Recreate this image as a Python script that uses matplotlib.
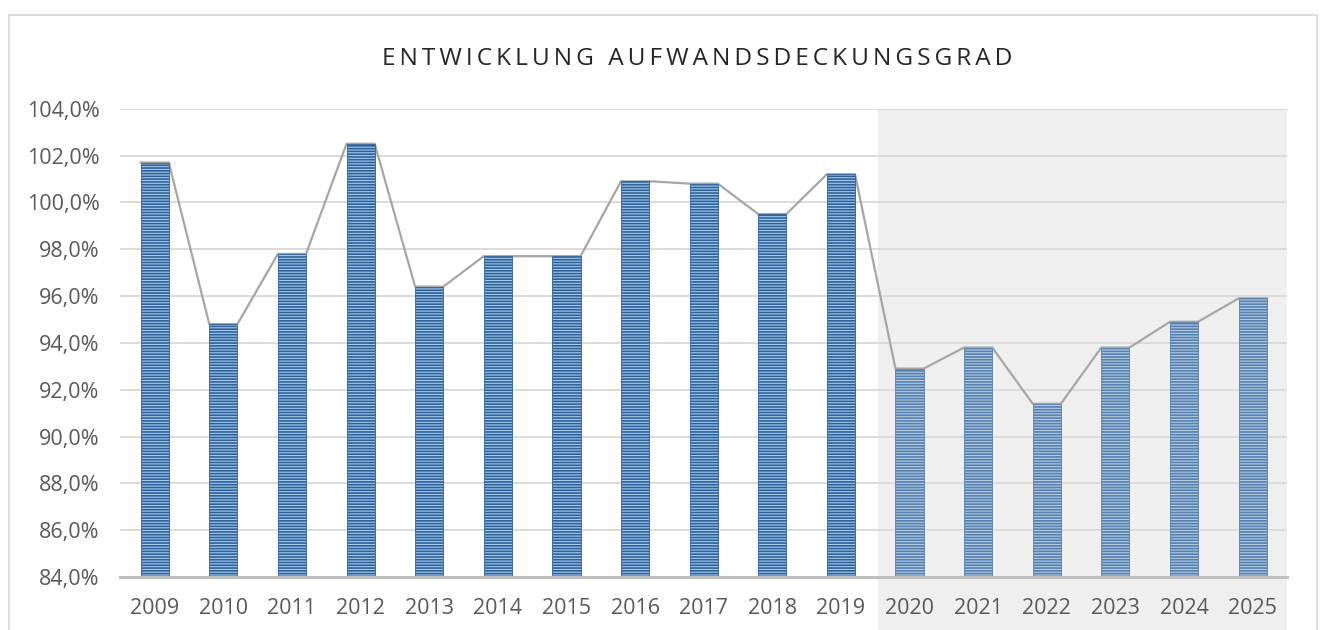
import numpy as np
import matplotlib
matplotlib.use('Agg')
import matplotlib.pyplot as plt
from matplotlib.patches import Rectangle
from matplotlib.ticker import FuncFormatter, MultipleLocator
import matplotlib.transforms as mtransforms

# Daten
jahre = ['2009', '2010', '2011', '2012', '2013', '2014', '2015', '2016', '2017',
         '2018', '2019', '2020', '2021', '2022', '2023', '2024', '2025']
deckungsgrad = [101.7, 94.8, 97.8, 102.5, 96.4, 97.7, 97.7, 100.9, 100.8,
                99.5, 101.2, 92.9, 93.8, 91.4, 93.8, 94.9, 95.9]
erstes_plan_jahr = '2020'
titel = 'ENTWICKLUNG AUFWANDSDECKUNGSGRAD'

plt.rcParams['font.family'] = ['Open Sans', 'DejaVu Sans']
plt.rcParams['hatch.linewidth'] = 1.2

fig = plt.figure(figsize=(13.22, 6.30), dpi=100)
ax = fig.add_axes([0.0911, 0.0841, 0.8824, 0.7434])

x = np.arange(len(jahre))
breite = 0.41
plan = jahre.index(erstes_plan_jahr)

# grauer Hintergrund fuer Planjahre (bis zum Bildrand unten)
trans = mtransforms.blended_transform_factory(ax.transData, ax.transAxes)
ax.add_patch(Rectangle((plan - 0.46, -0.3), len(jahre) - plan + 0.46 - 0.5, 1.3,
                       transform=trans, facecolor='#EFEFEF', edgecolor='none',
                       clip_on=False, zorder=0))

# Linie ueber die Balkenkanten
lx, ly = [], []
for xi, v in zip(x, deckungsgrad):
    lx += [xi - breite / 2, xi + breite / 2]
    ly += [v, v]
ax.plot(lx, ly, color='#A6A6A6', lw=1.6, zorder=2)

for xi, v in zip(x, deckungsgrad):
    if xi < plan:
        fc, hc = '#A2C8EC', '#2F6299'
    else:
        fc, hc = '#B2C9E2', '#5781AE'
    ax.bar(xi, v - 84, bottom=84, width=breite, facecolor=fc, edgecolor=hc,
           hatch='------', linewidth=0.6, zorder=3)

ax.set_xlim(-0.5, len(jahre) - 0.5)
ax.set_ylim(84, 104)
ax.yaxis.set_major_locator(MultipleLocator(2))
ax.yaxis.set_major_formatter(FuncFormatter(lambda v, p: f'{v:.1f}%'.replace('.', ',')))
ax.set_xticks(x)
ax.set_xticklabels(jahre)
ax.grid(axis='y', color='#D9D9D9', lw=1.3, zorder=1)
ax.set_axisbelow(True)

for s in ['top', 'right', 'left']:
    ax.spines[s].set_visible(False)
ax.spines['bottom'].set_color('#BFBFBF')
ax.spines['bottom'].set_linewidth(2.2)
ax.spines['bottom'].set_zorder(4)
ax.tick_params(axis='both', length=0, labelsize=15.5, colors='#595959')
ax.tick_params(axis='y', pad=15)
ax.tick_params(axis='x', pad=15)
ax.patch.set_alpha(0)

# Rahmen des Diagrammbereichs
fig.patches.append(Rectangle((9 / 1322, -0.05), 1308 / 1322, 1.05 - 15 / 630,
                             transform=fig.transFigure, fill=False,
                             edgecolor='#D9D9D9', lw=1.3))

fig.text(0.527, 0.907, '\u2009'.join(titel), ha='center', va='center',
         fontsize=17.6, color='#262626')

fig.savefig('out.png', dpi=100)
